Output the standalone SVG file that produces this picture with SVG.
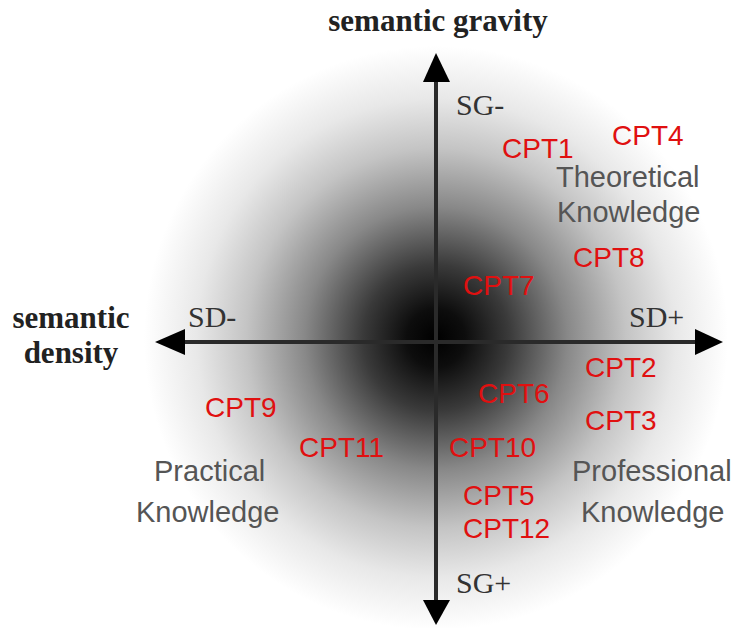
<svg xmlns="http://www.w3.org/2000/svg" width="731" height="628" viewBox="0 0 731 628">
<defs>
<radialGradient id="shade" cx="436" cy="338" r="292" gradientUnits="userSpaceOnUse">
<stop offset="0" stop-color="#000"/>
<stop offset="0.1" stop-color="#0d0d0d"/>
<stop offset="0.25" stop-color="#3a3a3a"/>
<stop offset="0.45" stop-color="#888"/>
<stop offset="0.65" stop-color="#c4c4c4"/>
<stop offset="0.82" stop-color="#e8e8e8"/>
<stop offset="1" stop-color="#fff"/>
</radialGradient>
<style>
.ax{stroke:#2a2a2a;stroke-width:4;fill:none}
.head{fill:#000}
.title{font-family:"Liberation Serif",serif;font-weight:bold;font-size:31px;fill:#222}
.pole{font-family:"Liberation Serif",serif;font-size:30px;fill:#333}
.cpt{font-family:"Liberation Sans",Arial,sans-serif;font-size:28px;fill:#e01010}
.kn{font-family:"Liberation Sans",Arial,sans-serif;font-size:29px;fill:#555}
</style>
</defs>
<rect width="731" height="628" fill="#fff"/>
<circle cx="436" cy="338" r="292" fill="url(#shade)"/>
<g id="connectors">
<line class="ax" x1="436" y1="78" x2="436" y2="602"/>
<line class="ax" x1="182" y1="342" x2="698" y2="342"/>
<polygon class="head" points="436,53 423,82 450,82"/>
<polygon class="head" points="436,625 423,600 450,600"/>
<polygon class="head" points="155,342 185,329 185,355"/>
<polygon class="head" points="723,342 695,329 695,355"/>
</g>
<g id="axis-labels">
<text class="title" x="438" y="31" text-anchor="middle">semantic gravity</text>
<text class="title" x="71" y="328" text-anchor="middle">semantic</text>
<text class="title" x="71" y="363" text-anchor="middle">density</text>
<text class="pole" x="456" y="115">SG-</text>
<text class="pole" x="456" y="593">SG+</text>
<text class="pole" x="188" y="327">SD-</text>
<text class="pole" x="629" y="327">SD+</text>
</g>
<g id="quadrant-labels">
<text class="kn" x="556" y="187">Theoretical</text>
<text class="kn" x="557" y="222">Knowledge</text>
<text class="kn" x="154" y="481">Practical</text>
<text class="kn" x="136" y="522">Knowledge</text>
<text class="kn" x="572" y="481">Professional</text>
<text class="kn" x="581" y="522">Knowledge</text>
</g>
<g id="cpt1"><text class="cpt" x="502" y="158">CPT1</text></g>
<g id="cpt4"><text class="cpt" x="612" y="145">CPT4</text></g>
<g id="cpt8"><text class="cpt" x="573" y="267">CPT8</text></g>
<g id="cpt7"><text class="cpt" x="463" y="295">CPT7</text></g>
<g id="cpt2"><text class="cpt" x="585" y="377">CPT2</text></g>
<g id="cpt6"><text class="cpt" x="478" y="403">CPT6</text></g>
<g id="cpt3"><text class="cpt" x="585" y="430">CPT3</text></g>
<g id="cpt9"><text class="cpt" x="205" y="417">CPT9</text></g>
<g id="cpt11"><text class="cpt" x="299" y="457">CPT11</text></g>
<g id="cpt10"><text class="cpt" x="449" y="457">CPT10</text></g>
<g id="cpt5"><text class="cpt" x="463" y="505">CPT5</text></g>
<g id="cpt12"><text class="cpt" x="463" y="538">CPT12</text></g>
</svg>
